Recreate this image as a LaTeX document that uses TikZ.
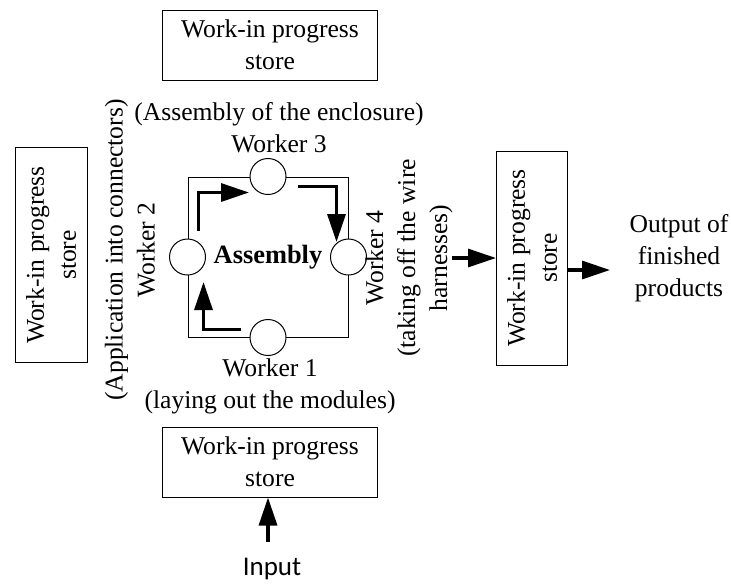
\documentclass[tikz,border=0pt]{standalone}
\usepackage{fontspec}
\setmainfont{Liberation Serif}
\newfontfamily\inputfont{Carlito}
\usetikzlibrary{calc,arrows.meta}

\begin{document}
\begin{tikzpicture}[x=0.5pt,y=-0.5pt,font=\fontsize{12.8pt}{16pt}\selectfont]
 \tikzset{
  storeBox/.style={draw, line width=0.5pt, align=center, inner sep=0pt},
  workerNode/.style={circle, draw, line width=0.5pt, fill=white, minimum size=18pt, inner sep=0pt},
  labelText/.style={align=center, inner sep=0pt},
  flowArrow/.style={line width=1.6pt, -{Triangle[length=14pt,width=9pt]}}
  }
  \useasboundingbox (0,0) rectangle (731,585);
  % the assembly cell
  \node[draw, line width=0.5pt, minimum size=80pt, inner sep=0pt, font=\fontsize{13.2pt}{16pt}\selectfont\bfseries] (cell) at (268,257) {Assembly};

  \node[workerNode] (w1) at (cell.south) {};
  \node[workerNode] (w2) at (cell.west) {};
  \node[workerNode] (w3) at (cell.north) {};
  \node[workerNode] (w4) at (cell.east) {};

  % worker labels
  \node[labelText] (l3) at (279,128) {(Assembly of the enclosure)\\Worker 3};
  \node[labelText] (l1) at (270,386) {Worker 1\\(laying out the modules)};
  \node[labelText, rotate=90] (l2) at (130,250) {(Application into connectors)\\Worker 2};
  \node[labelText, rotate=90] (l4) at (409,258) {Worker 4\\(taking off the wire\\harnesses)};

  % stores
  \node[storeBox, minimum width=107.5pt, minimum height=35pt] (tStore) at (270,45) {Work-in progress\\store};
  \node[storeBox, minimum width=107.5pt, minimum height=35pt] (bStore) at (270,462) {Work-in progress\\store};
  \node[storeBox, minimum width=36pt, minimum height=107.5pt] (lStore) at (51,255) {};
  \node[labelText, rotate=90] (lStoreText) at (lStore) {Work-in progress\\store};
  \node[storeBox, minimum width=35.5pt, minimum height=107pt] (rStore) at (532,258) {};
  \node[labelText, rotate=90] (rStoreText) at (rStore) {Work-in progress\\store};

  \node[labelText] (output) at (679,258) {Output of\\finished\\products};
  \node[labelText, font=\inputfont\fontsize{13.5pt}{16pt}\selectfont] (input) at (272,569) {Input};

  % flow inside the cell
  \draw[flowArrow] ($(w2)+(11,-26)$) |- ($(w3)+(-19,16)$);
  \draw[flowArrow] ($(w3)+(30,10)$) -| ($(w4)+(-12,-15)$);
  \draw[flowArrow] ($(w1)+(-27,-8)$) -| ($(w2)+(16,25)$);

  % material flow
  \coordinate (inBase) at (268,542);
  \coordinate (toStore) at (452,258);
  \coordinate (outTip) at (610,270);
  \draw[flowArrow] (inBase) -- (bStore.south -| inBase);
  \draw[flowArrow] (toStore) -- (rStore.west);
  \draw[flowArrow] (rStore.east |- outTip) -- (outTip);

\end{tikzpicture}
\end{document}
